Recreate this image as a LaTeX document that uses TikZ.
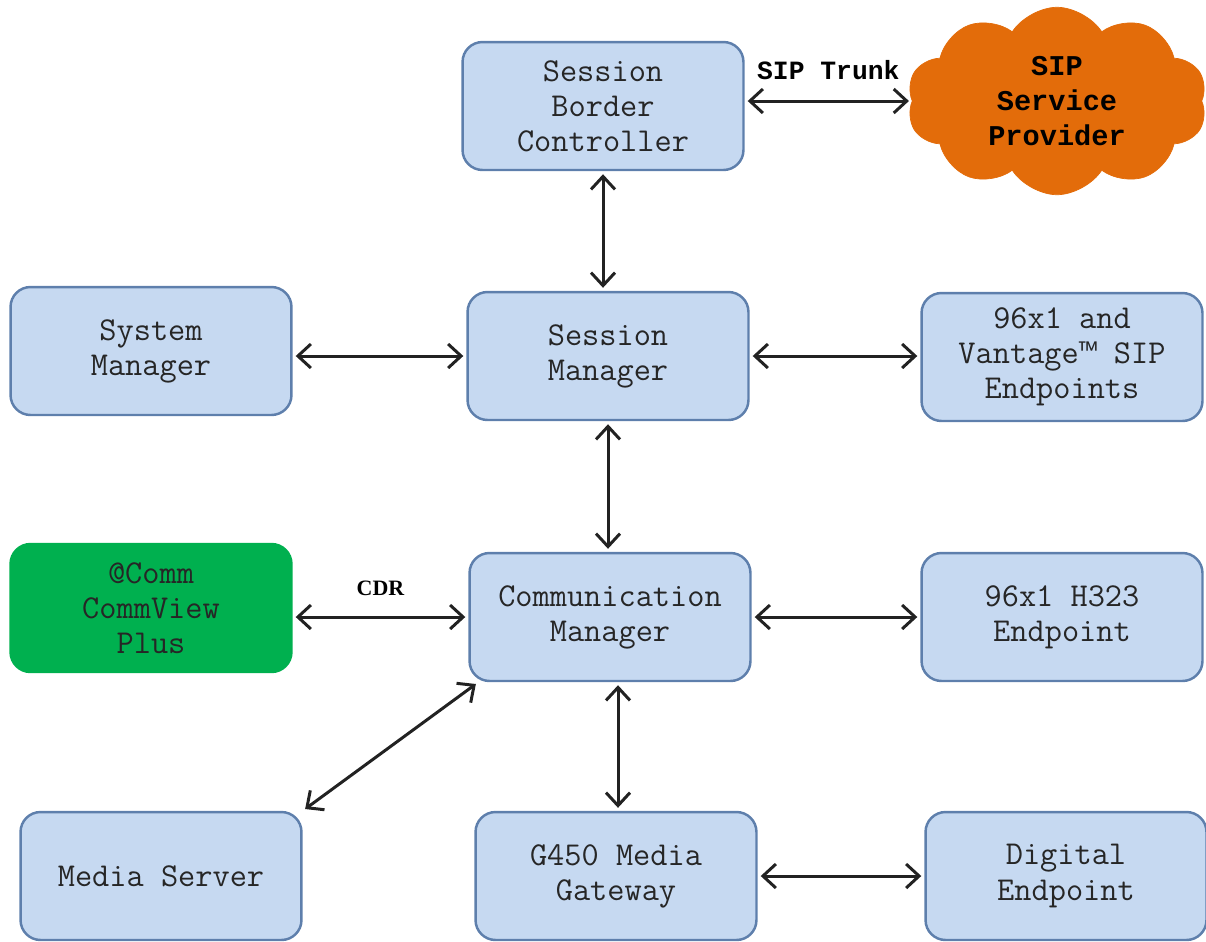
\documentclass[tikz,border=0pt]{standalone}
\usepackage{fontspec}
\usetikzlibrary{arrows.meta,shapes.symbols}
\newfontfamily\courmono{Liberation Mono}
\newfontfamily\serifbold{Liberation Serif}
\definecolor{boxfill}{HTML}{C6D9F1}
\definecolor{boxline}{HTML}{5E7FAC}
\definecolor{commgreen}{HTML}{00B04F}
\definecolor{sporange}{HTML}{E36C0A}
\definecolor{linkgray}{HTML}{222222}

\begin{document}
\begin{tikzpicture}[x=0.02cm, y=-0.02cm,
    unit/.style={draw=boxline, fill=boxfill, line width=1.4pt, rounded corners=0.4cm,
      minimum width=5.62cm, minimum height=2.56cm, align=center,
      font=\ttfamily\fontsize{19}{20}\selectfont, text=black!85},
    link/.style={<->, >={Straight Barb[length=2.6mm, width=4.8mm]}, line width=1.7pt,
      draw=linkgray, shorten <=0.06cm, shorten >=0.06cm}]
  \useasboundingbox (0,0) rectangle (1206,941);

  \node [unit] (sbc) at (603, 106) {Session\\Border\\Controller};
  \node [cloud, cloud puffs=10, cloud puff arc=115, aspect=1.55, fill=sporange, draw=sporange,
    minimum width=6cm, minimum height=3.75cm, align=center,
    font=\courmono\fontsize{16.3}{20}\selectfont\bfseries] (sip) at (1057, 101) {SIP\\Service\\Provider};

  \node [unit] (sysmgr) at (151, 351) {System\\Manager};
  \node [unit] (sm) at (608, 356) {Session\\Manager};
  \node [unit] (sipep) at (1062, 357) {96x1 and\\Vantage{\courmono\fontsize{17}{20}\selectfont ™} SIP\\Endpoints};

  \node [unit, fill=commgreen, draw=commgreen] (acomm) at (151, 608) {@Comm\\CommView\\Plus};
  \node [unit] (cm) at (610, 617) {Communication\\Manager};
  \node [unit] (h323) at (1062, 617) {96x1 H323\\Endpoint};

  \node [unit] (ms) at (161, 876) {Media Server};
  \node [unit] (g450) at (616, 876) {G450 Media\\Gateway};
  \node [unit] (digital) at (1066, 876) {Digital\\Endpoint};

  \draw [link] (sbc.east |- sip.west) -- node (trunk) [above=0.28cm, font=\courmono\fontsize{15}{18}\selectfont\bfseries] {SIP Trunk} (sip.west);
  \draw [link] (sbc.south) -- (sbc.south |- sm.north);
  \draw [link] (sysmgr.east |- sm.west) -- (sm.west);
  \draw [link] (sm.east) -- (sipep.west |- sm.east);
  \draw [link] (sm.south) -- (sm.south |- cm.north);
  \draw [link] (acomm.east |- cm.west) -- node (cdr) [above=0.28cm, font=\fontsize{12.5}{15}\serifbold\bfseries] {CDR} (cm.west);
  \draw [link] (cm.east) -- (h323.west |- cm.east);
  \draw [link] ([xshift=0.16cm]cm.south) -- ([xshift=0.16cm]cm.south |- g450.north);
  \draw [link] ([xshift=0.2cm]cm.south west) -- (ms.north east);
  \draw [link] (g450.east) -- (digital.west |- g450.east);
\end{tikzpicture}
\end{document}
